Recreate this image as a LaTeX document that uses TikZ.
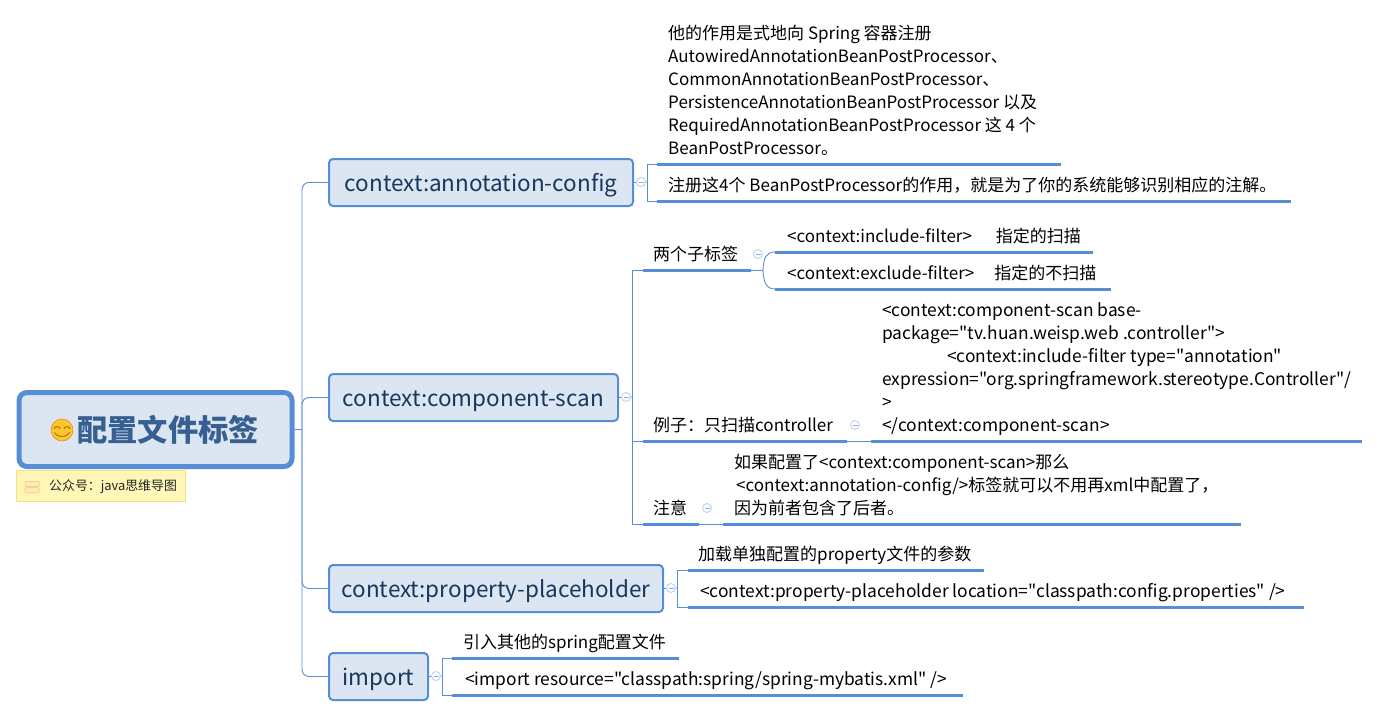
\documentclass[tikz,border=0pt]{standalone}
\usepackage{fontspec}
\setmainfont[Ligatures=TeXOff]{Noto Sans CJK SC}
\usetikzlibrary{positioning}
\definecolor{mapblue}{HTML}{558ED5}
\definecolor{mapfill}{HTML}{DCE6F2}
\definecolor{maptext}{HTML}{17375E}
\definecolor{roottext}{HTML}{376092}
\definecolor{notefill}{HTML}{FFF7B7}
\definecolor{noteline}{HTML}{F7DD7E}
\definecolor{iconfill}{HTML}{FFEBC2}
\definecolor{iconline}{HTML}{FBD37C}
\definecolor{smile}{HTML}{FFC62B}
\definecolor{smileline}{HTML}{D98A12}
\tikzset{
  root/.style={draw=mapblue,line width=5pt,fill=mapfill,rounded corners=8pt,minimum width=273pt,minimum height=74pt,text=roottext,font=\fontsize{30.3}{36}\selectfont\bfseries},
  topic/.style={draw=mapblue,line width=2pt,fill=mapfill,rounded corners=4pt,minimum height=47pt,text height=20pt,text depth=2pt,anchor=north west,inner xsep=0pt,text=maptext,font=\fontsize{22.5}{26}\selectfont},
  leaf/.style={anchor=south west,inner xsep=0pt,inner ysep=7pt,text depth=2pt,font=\fontsize{17}{23}\selectfont,execute at begin node={\begin{minipage}[b]{#1}\raggedright},execute at end node={\end{minipage}}},
  latinleaf/.style={leaf=#1,font=\fontsize{17.4}{23}\selectfont},
  uline/.style={mapblue,line width=3pt},
  link/.style={mapblue,line width=0.9pt},
  branch/.style={link,rounded corners=7pt},
  fold/.style={circle,draw=mapblue!40,line width=0.9pt,fill=white,minimum size=9pt,inner sep=0pt}
}
\begin{document}
\begin{tikzpicture}[x=1pt,y=-1pt]
\useasboundingbox (0,0) rectangle (1380,717);
% central topic and its note
\node[root] (root) at (155.5,429.5) {\hspace{25pt}配置文件标签};
\fill[smile,draw=smileline,line width=0.5pt] (62,430) circle (11);
\draw[smileline!70!black,line width=0.8pt] (54,429) arc (180:360:3 and 2.5) (64,429) arc (180:360:3 and 2.5);
\draw[smileline!70!black,line width=0.8pt] (54.5,432.5) arc (160:20:8 and 6);
\node[draw=noteline,fill=notefill,minimum width=169pt,minimum height=31pt,anchor=north west,inner sep=0pt] (note) at (16,470) {};
\node[anchor=west,inner sep=0pt,font=\fontsize{12.9}{14}\selectfont,text=black!85] (notetext) at (49,487) {公众号：java思维导图};
\fill[iconfill,draw=iconline,rounded corners=1pt,line width=1pt] (25,481.5) rectangle (39,486.5) (25,487.5) rectangle (39,492.5);
% main topics
\node[topic,minimum width=304pt] (annot) at (328,158) {context:annotation-config};
\node[topic,minimum width=289pt] (scan) at (328,373) {context:component-scan};
\node[topic,minimum width=334pt] (holder) at (328,564) {context:property-placeholder};
\node[topic,minimum width=99pt] (import) at (328,652) {import};
\coordinate (trunk) at (302,429.5);
\draw[link] (root.east) -- (trunk);
\foreach \tp in {annot,scan,holder,import}
  \draw[branch] (trunk) |- (\tp.west);
% annotation-config
\node[leaf=393pt] (ann1) at (668,164) {他的作用是式地向 Spring 容器注册\\AutowiredAnnotationBeanPostProcessor、\\CommonAnnotationBeanPostProcessor、\\PersistenceAnnotationBeanPostProcessor 以及\\RequiredAnnotationBeanPostProcessor 这 4 个\\BeanPostProcessor。};
\node[leaf=623pt] (ann2) at (668,201) {注册这4个 BeanPostProcessor的作用，就是为了你的系统能够识别相应的注解。};
% component-scan
\node[leaf=98pt] (two) at (653,270) {两个子标签};
\node[leaf=306pt] (inc) at (787,252) {<context:include-filter>\hspace{24pt}指定的扫描};
\node[leaf=324pt] (exc) at (787,289) {<context:exclude-filter>\hspace{20pt}指定的不扫描};
\node[leaf=194pt] (demo) at (653,441) {例子：只扫描controller};
\node[latinleaf=480pt] (demotext) at (882,441) {<context:component-scan base-\\package="tv.huan.weisp.web .controller">\\\hspace*{65pt}<context:include-filter type="annotation"\\expression="org.springframework.stereotype.Controller"/\\>\\</context:component-scan>};
\node[leaf=46pt] (warn) at (653,524) {注意};
\node[leaf=507pt] (warntext) at (734,524) {如果配置了<context:component-scan>那么\\\hspace*{2pt}<context:annotation-config/>标签就可以不用再xml中配置了，\\因为前者包含了后者。};
% property-placeholder
\node[leaf=286pt] (load) at (698,570) {加载单独配置的property文件的参数};
\node[latinleaf=604pt] (loc) at (700,607) {<context:property-placeholder location="classpath:config.properties" />};
% import
\node[leaf=216pt] (other) at (463,658) {引入其他的spring配置文件};
\node[latinleaf=498pt] (res) at (465,695) {<import resource="classpath:spring/spring-mybatis.xml" />};
% underlines
\foreach \lf/\lx in {ann1/657,ann2/657,two/643,inc/775,exc/775,demo/643,demotext/871,warn/643,warntext/723,load/688,loc/688,other/452,res/452}
  \draw[uline] (\lx,0 |- \lf.south) -- (\lf.south east);
% connectors
\coordinate (annfork) at (647,182);
\coordinate (scanfork) at (632,397);
\coordinate (twofork) at (763,270);
\coordinate (holdfork) at (677,588);
\coordinate (impfork) at (442,676);
\draw[link] (annot.east) -- (annfork);
\draw[link] (annfork |- ann1.south) -- (657,0 |- ann1.south) (annfork |- ann1.south) -- (annfork |- ann2.south) -- (657,0 |- ann2.south);
\draw[link] (scan.east) -- (scanfork);
\draw[link] (643,0 |- two.south) -- (scanfork |- two.south) -- (scanfork |- warn.south) -- (643,0 |- warn.south);
\draw[link] (scanfork |- demo.south) -- (643,0 |- demo.south);
\draw[link] (two.south east) -- (twofork);
\draw[link] (twofork) .. controls (763.5,258) and (766,252) .. (775,0 |- inc.south);
\draw[link] (twofork) .. controls (763.5,282) and (766,289) .. (775,0 |- exc.south);
\draw[link] (demo.south east) -- (871,0 |- demotext.south);
\draw[link] (warn.south east) -- (723,0 |- warntext.south);
\draw[link] (holder.east) -- (holdfork);
\draw[link] (holdfork |- load.south) -- (688,0 |- load.south) (holdfork |- load.south) -- (holdfork |- loc.south) -- (688,0 |- loc.south);
\draw[link] (import.east) -- (impfork);
\draw[link] (impfork |- other.south) -- (452,0 |- other.south) (impfork |- other.south) -- (impfork |- res.south) -- (452,0 |- res.south);
% fold buttons
\foreach \fx/\fy in {641/182,758/254,626/397,855/425,707/508,671/588,436/676}{
  \node[fold] at (\fx,\fy) {};
  \draw[mapblue!70,line width=0.8pt] (\fx-2.5,\fy) -- (\fx+2.5,\fy);
}
\end{tikzpicture}
\end{document}
